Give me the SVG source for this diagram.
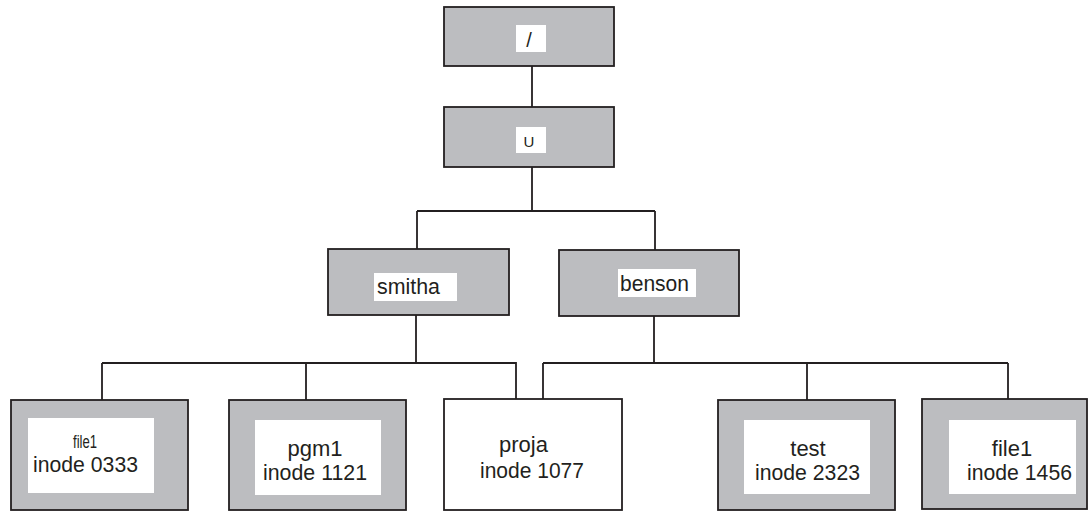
<svg xmlns="http://www.w3.org/2000/svg" width="1090" height="511" viewBox="0 0 1090 511">
<style>
.box{fill:#bcbdc0;stroke:#231f20;stroke-width:1.8}
.wbox{fill:#ffffff;stroke:#231f20;stroke-width:1.8}
.lab{fill:#ffffff}
.t{font-family:"Liberation Sans",Arial,sans-serif;font-size:22px;fill:#231f20}
.c{text-anchor:middle}
.conn{fill:none;stroke:#231f20;stroke-width:1.8}
</style>
<rect width="1090" height="511" fill="#ffffff"/>
<g id="connectors">
<path class="conn" d="M532 66V107"/>
<path class="conn" d="M532 167V211M417 211H655M417 211V249M655 211V250"/>
<path class="conn" d="M416 315V363M102 363H516V399M102 363V400M306 363V400"/>
<path class="conn" d="M654 316V363M543 363H1008M543 363V399M807 363V400M1008 363V400"/>
</g>
<g id="root">
<rect class="box" x="444" y="7" width="170" height="59"/>
<rect class="lab" x="516" y="25" width="30" height="27"/>
<text class="t c" x="529" y="47" style="font-size:20px">/</text>
</g>
<g id="u">
<rect class="box" x="444" y="107" width="170" height="60"/>
<rect class="lab" x="516" y="127" width="30" height="26"/>
<text class="t c" x="529" y="147" style="font-size:15px">U</text>
</g>
<g id="smitha">
<rect class="box" x="328" y="249" width="181" height="66"/>
<rect class="lab" x="374" y="273" width="83" height="28"/>
<text class="t" x="377" y="294" textLength="63" lengthAdjust="spacingAndGlyphs">smitha</text>
</g>
<g id="benson">
<rect class="box" x="559" y="250" width="180" height="66"/>
<rect class="lab" x="618" y="269" width="78" height="28"/>
<text class="t" x="620" y="291" textLength="69" lengthAdjust="spacingAndGlyphs">benson</text>
</g>
<g id="file1-0333">
<rect class="box" x="11" y="400" width="177" height="110"/>
<rect class="lab" x="28" y="418" width="126" height="75"/>
<text class="t c" x="85" y="448" style="font-size:18px" textLength="24" lengthAdjust="spacingAndGlyphs">file1</text>
<text class="t" x="33" y="472" textLength="105" lengthAdjust="spacingAndGlyphs">inode 0333</text>
</g>
<g id="pgm1">
<rect class="box" x="229" y="400" width="177" height="110"/>
<rect class="lab" x="255" y="420" width="126" height="75"/>
<text class="t c" x="315" y="456">pgm1</text>
<text class="t" x="263" y="480" textLength="104" lengthAdjust="spacingAndGlyphs">inode 1121</text>
</g>
<g id="proja">
<rect class="wbox" x="444" y="399" width="178" height="111"/>
<text class="t" x="499" y="452">proja</text>
<text class="t" x="480" y="478" textLength="104" lengthAdjust="spacingAndGlyphs">inode 1077</text>
</g>
<g id="test">
<rect class="box" x="718" y="400" width="177" height="110"/>
<rect class="lab" x="744" y="420" width="126" height="74"/>
<text class="t c" x="808" y="456">test</text>
<text class="t" x="755" y="480" textLength="105" lengthAdjust="spacingAndGlyphs">inode 2323</text>
</g>
<g id="file1-1456">
<rect class="box" x="922" y="399" width="165" height="110"/>
<rect class="lab" x="949" y="420" width="127" height="74"/>
<text class="t c" x="1012" y="456">file1</text>
<text class="t" x="967" y="480" textLength="105" lengthAdjust="spacingAndGlyphs">inode 1456</text>
</g>
</svg>
